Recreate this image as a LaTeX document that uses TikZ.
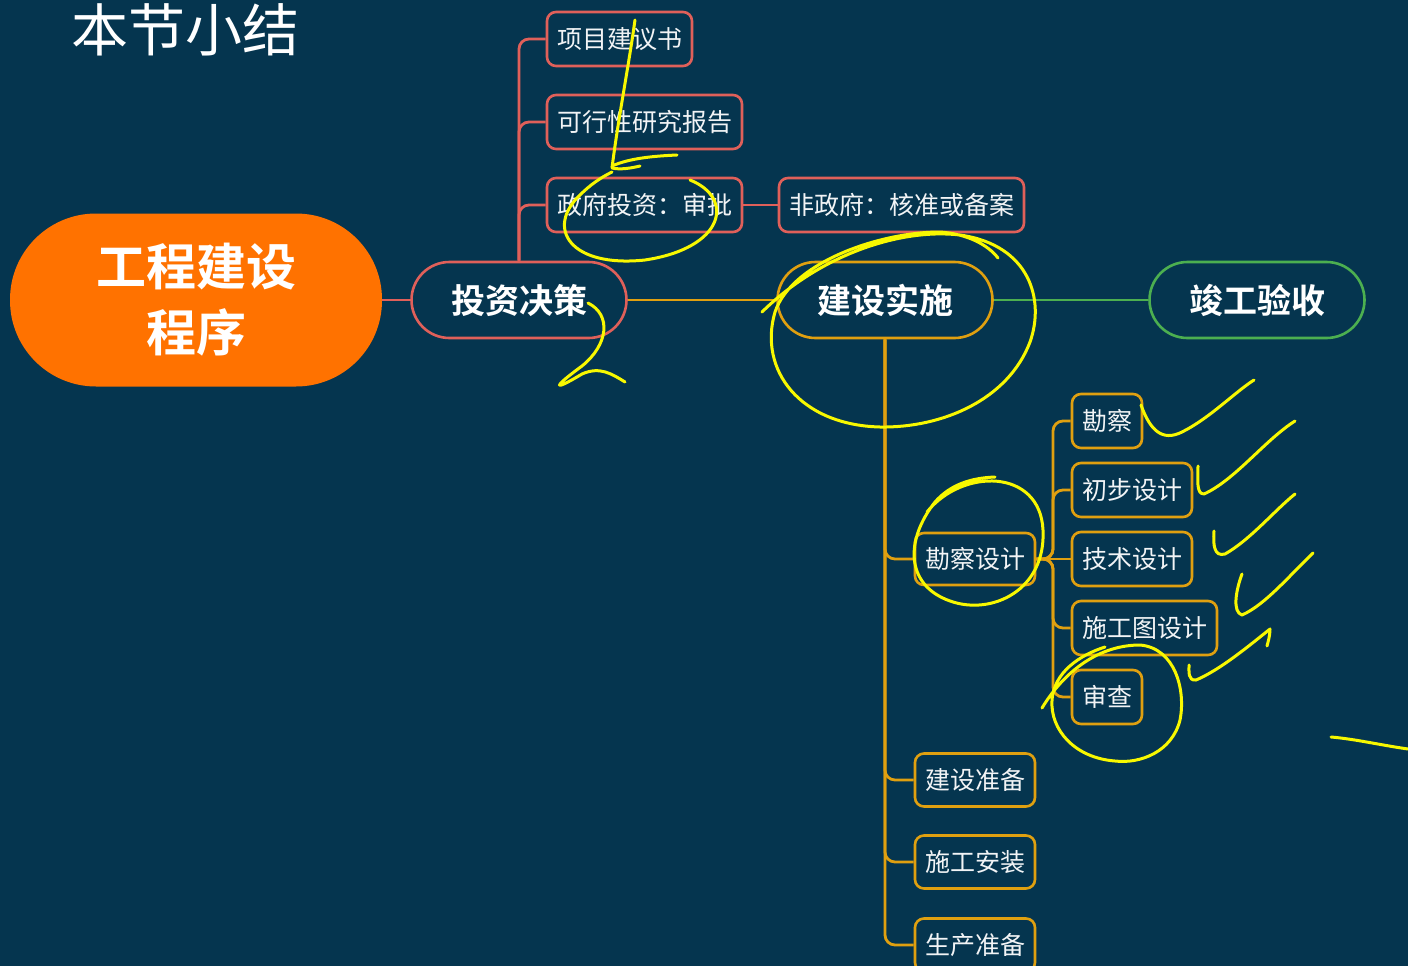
\documentclass[tikz,border=0pt]{standalone}
\usepackage{fontspec}
\newfontfamily\cjk{Noto Sans CJK SC}[BoldFont={Noto Sans CJK SC Bold}]
\definecolor{bg}{HTML}{05354F}
\definecolor{rootc}{HTML}{FF7200}
\definecolor{redc}{HTML}{E0605A}
\definecolor{goldc}{HTML}{E0A010}
\definecolor{greenc}{HTML}{4CAF50}
\definecolor{txt}{HTML}{F2F4F6}
\definecolor{inkc}{HTML}{F8F800}
\begin{document}
\begin{tikzpicture}[x=1pt,y=-1pt,
  big/.style={draw, line width=2.6pt, rounded corners=38pt, minimum width=215pt, minimum height=76pt, fill=bg, text=white, font=\cjk\bfseries\fontsize{34}{40}\selectfont, inner sep=0pt},
  sbox/.style={draw, line width=2.6pt, rounded corners=9pt, minimum height=54pt, fill=bg, text=txt, font=\cjk\fontsize{25}{30}\selectfont, inner sep=0pt},
  conn/.style={line width=2.8pt, rounded corners=10pt},
  ink/.style={inkc, line width=3pt, line cap=round, line join=round}]
\fill[bg] (0,0) rectangle (1408,966);
\useasboundingbox (0,0) rectangle (1408,966);

% title
\node[text=white, font=\cjk\fontsize{57}{62}\selectfont, inner sep=0pt] (title) at (185,30) {本节小结};

% root and main nodes
\node[fill=rootc, rounded corners=86pt, minimum width=372pt, minimum height=173pt, inner sep=0pt, text=white, align=center, font=\cjk\bfseries\fontsize{50}{66}\selectfont] (root) at (196,300) {工程建设\\程序};
\node[big, draw=redc] (tz) at (519,300) {投资决策};
\node[big, draw=goldc] (js) at (885,300) {建设实施};
\node[big, draw=greenc] (jg) at (1257,300) {竣工验收};

% children of 投资决策
\node[sbox, draw=redc, minimum width=145pt] (xm) at (619.5,39) {项目建议书};
\node[sbox, draw=redc, minimum width=195pt] (kx) at (644.5,122) {可行性研究报告};
\node[sbox, draw=redc, minimum width=195pt] (zf) at (644.5,205) {政府投资：审批};
\node[sbox, draw=redc, minimum width=245pt] (fz) at (901.5,205) {非政府：核准或备案};

% children of 建设实施
\node[sbox, draw=goldc, minimum width=120pt, minimum height=52pt] (kcsj) at (975,559) {勘察设计};
\node[sbox, draw=goldc, minimum width=120pt, minimum height=53pt] (jszb) at (975,780) {建设准备};
\node[sbox, draw=goldc, minimum width=120pt, minimum height=53pt] (sgaz) at (975,862) {施工安装};
\node[sbox, draw=goldc, minimum width=120pt, minimum height=53pt] (sczb) at (975,945) {生产准备};

% children of 勘察设计
\node[sbox, draw=goldc, minimum width=70pt] (kc) at (1107,421) {勘察};
\node[sbox, draw=goldc, minimum width=120pt] (cb) at (1132,490) {初步设计};
\node[sbox, draw=goldc, minimum width=120pt] (js2) at (1132,559) {技术设计};
\node[sbox, draw=goldc, minimum width=145pt] (sgt) at (1144.5,628) {施工图设计};
\node[sbox, draw=goldc, minimum width=70pt] (sc) at (1107,697) {审查};

% connectors
\draw[conn, redc] (root.east) -- (tz.west);
\draw[conn, goldc] (tz.east) -- (js.west);
\draw[conn, greenc] (js.east) -- (jg.west);
\draw[conn, redc] (tz.north) |- (xm.west);
\draw[conn, redc] (tz.north) |- (kx.west);
\draw[conn, redc] (tz.north) |- (zf.west);
\draw[conn, redc] (zf.east) -- (fz.west);
\draw[conn, goldc] (js.south) |- (kcsj.west);
\draw[conn, goldc] (js.south) |- (jszb.west);
\draw[conn, goldc] (js.south) |- (sgaz.west);
\draw[conn, goldc] (js.south) |- (sczb.west);
\coordinate (kt) at (1053,559);
\draw[conn, goldc] (kcsj.east) -- (kt) |- (kc.west);
\draw[conn, goldc] (kcsj.east) -- (kt) |- (cb.west);
\draw[conn, goldc] (kcsj.east) -- (js2.west);
\draw[conn, goldc] (kcsj.east) -- (kt) |- (sgt.west);
\draw[conn, goldc] (kcsj.east) -- (kt) |- (sc.west);

% handwritten annotations
\draw[ink] (635,20) .. controls (628,70) and (618,120) .. (612,168) .. controls (620,170) and (632,168) .. (640,166);
\draw[ink] (612,166) .. controls (630,158) and (655,156) .. (677,155);
\draw[ink] (690,180) .. controls (735,198) and (725,248) .. (645,260) .. controls (570,268) and (545,228) .. (580,195) .. controls (590,185) and (600,178) .. (612,172);
\draw[ink] (588,303) .. controls (612,315) and (608,345) .. (582,366) .. controls (552,388) and (552,392) .. (582,374) .. controls (600,366) and (612,374) .. (625,382);
\draw[ink] (762,312) .. controls (820,255) and (900,228) .. (960,235) .. controls (1030,245) and (1045,300) .. (1030,342) .. controls (1008,400) and (942,428) .. (880,427) .. controls (800,425) and (758,370) .. (775,312) .. controls (792,262) and (880,232) .. (940,232) .. controls (968,234) and (988,245) .. (998,258);
\draw[ink] (927,512) .. controls (962,468) and (1040,468) .. (1043,530) .. controls (1046,590) and (992,616) .. (950,601) .. controls (905,585) and (905,540) .. (935,502) .. controls (950,485) and (970,478) .. (995,477);
\draw[ink] (1141,405) .. controls (1150,430) and (1162,442) .. (1182,432) .. controls (1210,418) and (1235,392) .. (1254,380);
\draw[ink] (1198,466) .. controls (1198,480) and (1196,494) .. (1204,494) .. controls (1235,480) and (1265,440) .. (1295,421);
\draw[ink] (1214,531) .. controls (1213,545) and (1214,557) .. (1225,554) .. controls (1250,540) and (1275,510) .. (1295,494);
\draw[ink] (1242,574) .. controls (1236,590) and (1232,612) .. (1242,615) .. controls (1265,605) and (1290,575) .. (1313,553);
\draw[ink] (1189,665) .. controls (1189,672) and (1188,681) .. (1196,680) .. controls (1220,670) and (1250,645) .. (1270,629) .. controls (1270,636) and (1268,642) .. (1267,646);
\draw[ink] (1042,708) .. controls (1065,670) and (1100,645) .. (1140,645) .. controls (1175,648) and (1186,690) .. (1180,720) .. controls (1172,752) and (1140,764) .. (1115,761) .. controls (1075,758) and (1050,730) .. (1052,700) .. controls (1054,672) and (1080,655) .. (1105,647);
\draw[ink] (1331,737) .. controls (1355,739) and (1380,745) .. (1408,749);
\end{tikzpicture}
\end{document}
